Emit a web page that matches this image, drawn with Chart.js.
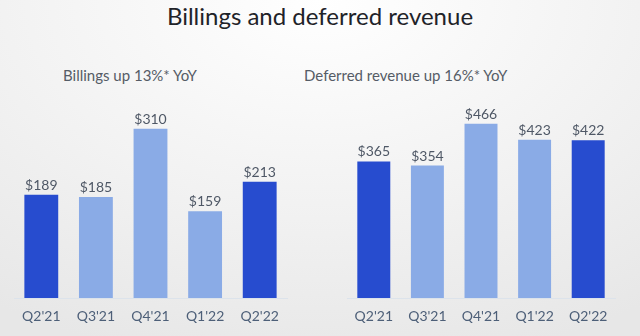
<!DOCTYPE html>
<html>
<head>
<meta charset="utf-8">
<script src="https://cdn.jsdelivr.net/npm/chart.js@4"></script>
<style>
  html, body { margin: 0; padding: 0; }
  body {
    width: 640px; height: 336px; overflow: hidden; position: relative;
    font-family: Lato, "Open Sans", sans-serif;
    background: radial-gradient(ellipse 90% 110% at 50% 0%, #ffffff 0%, #f2f2f2 55%, #e7e7e7 100%);
  }
  .txt { position: absolute; white-space: nowrap; }
  #title { left: 0; width: 640px; text-align: center; top: 1px; font-size: 24px; color: #1f2329; }
  .sub { top: 66px; font-size: 15px; color: #555c66; }
  #sub1 { left: 63px; }
  #sub2 { left: 304px; }
  .box { position: absolute; top: 100px; height: 236px; }
  #box1 { left: 0; width: 300px; }
  #box2 { left: 320px; width: 320px; }
</style>
</head>
<body>
<div id="title" class="txt">Billings and deferred revenue</div>
<div id="sub1" class="txt sub">Billings up 13%* YoY</div>
<div id="sub2" class="txt sub">Deferred revenue up 16%* YoY</div>
<div id="box1" class="box"><canvas id="billChart"></canvas></div>
<div id="box2" class="box"><canvas id="defChart"></canvas></div>
<script>
// quarters on x axis
var QUARTERS = ["Q2'21", "Q3'21", "Q4'21", "Q1'22", "Q2'22"];
// billings, $M
var BILLINGS = [189, 185, 310, 159, 213];
// deferred revenue, $M
var DEFERRED = [365, 354, 466, 423, 422];

var DARK = "#274ccf";
var LIGHT = "#8aabe6";
// year-over-year quarters are dark, the rest light
var barColors = [DARK, LIGHT, LIGHT, LIGHT, DARK];

// draw "$value" above each bar
var valueLabels = {
  id: "valueLabels",
  afterDatasetsDraw: function (chart) {
    var c = chart.ctx;
    var meta = chart.getDatasetMeta(0);
    c.save();
    c.font = "14px Lato, sans-serif";
    c.fillStyle = "#4f5866";
    c.textAlign = "center";
    c.textBaseline = "alphabetic";
    meta.data.forEach(function (bar, i) {
      c.fillText("$" + chart.data.datasets[0].data[i], bar.x, bar.y - 5);
    });
    c.restore();
  },
};

function makeChart(id, values, yMax, pad, barPct) {
  return new Chart(document.getElementById(id), {
    type: "bar",
    data: {
      labels: QUARTERS,
      datasets: [
        {
          data: values,
          backgroundColor: barColors,
          borderWidth: 0,
          barPercentage: barPct,
          categoryPercentage: 1,
        },
      ],
    },
    options: {
      responsive: true,
      maintainAspectRatio: false,
      animation: false,
      layout: { padding: pad },
      plugins: { legend: { display: false }, tooltip: { enabled: false } },
      scales: {
        x: {
          grid: { display: false, drawTicks: false },
          border: { display: true, color: "#dce3eb", width: 1 },
          ticks: { color: "#4d5f78", font: { family: "Lato", size: 14 }, padding: 10 },
          afterFit: function (s) { s.height = 38; },
        },
        y: { display: false, min: 0, max: yMax },
      },
    },
    plugins: [valueLabels],
  });
}

makeChart("billChart", BILLINGS, 350, { left: 14, right: 13, top: 7, bottom: 0 }, 0.62);
makeChart("defChart", DEFERRED, 500, { left: 27, right: 25, top: 11, bottom: 0 }, 0.615);
</script>
</body>
</html>
